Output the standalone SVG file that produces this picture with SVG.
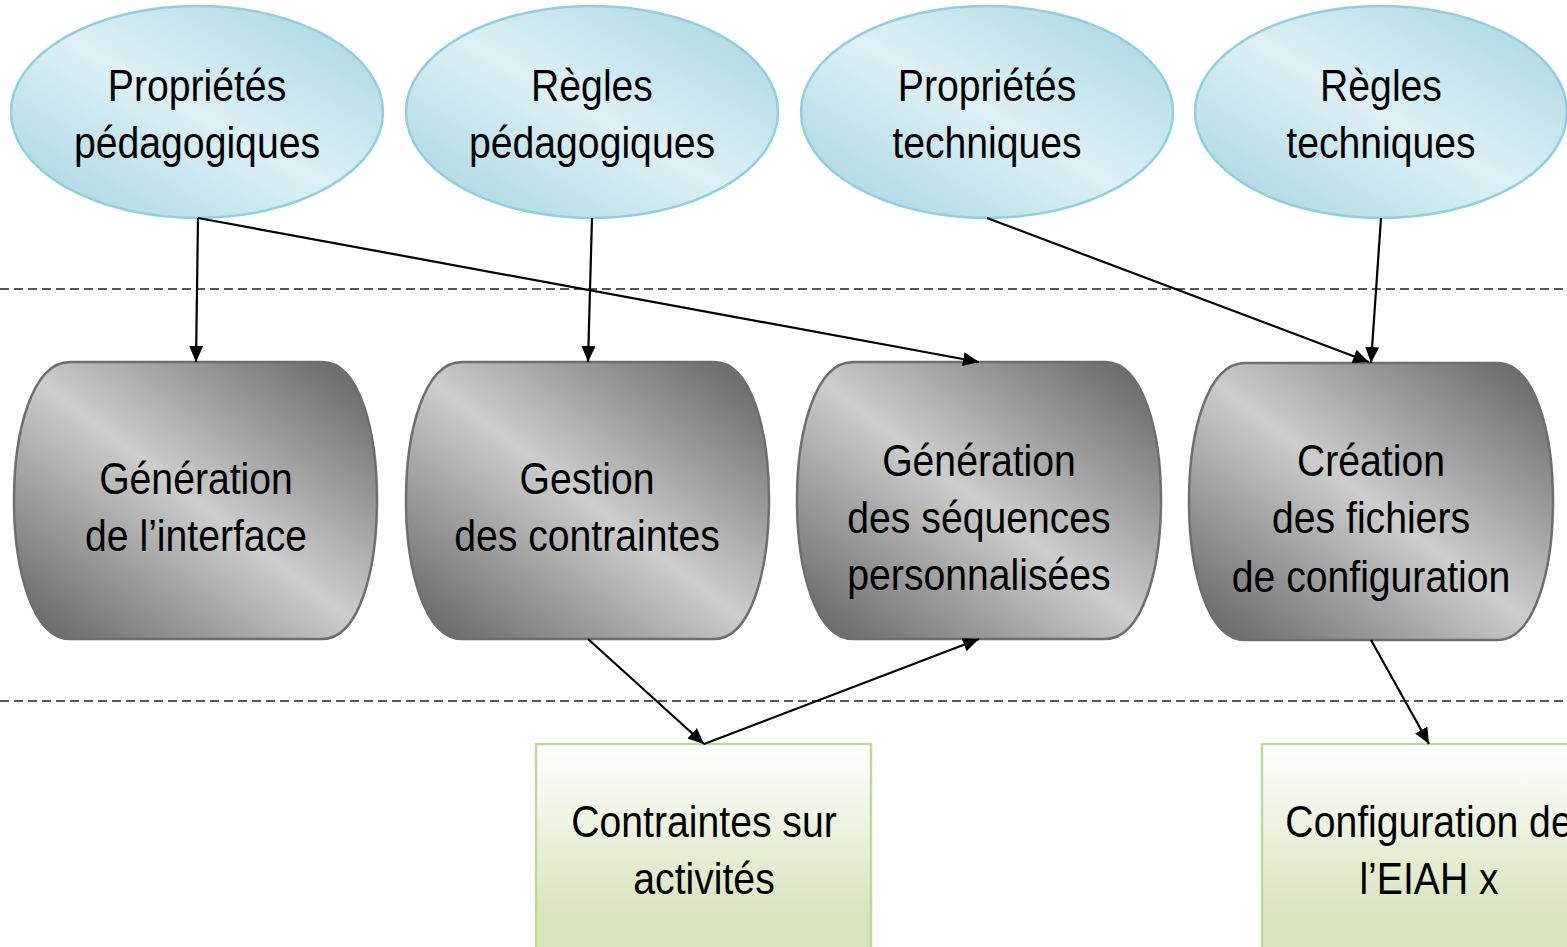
<svg xmlns="http://www.w3.org/2000/svg" width="1567" height="947" viewBox="0 0 1567 947">
<defs>
<style>
.ell{fill:url(#gBlue);stroke:#92cfdc;stroke-width:2.5}
.cyl{fill:url(#gGray);stroke:#6e6e6e;stroke-width:2.5}
.box{fill:url(#gGreen);stroke:#c3d69b;stroke-width:2.5}
.t{font-family:"Liberation Sans Narrow","Liberation Sans",Arial,sans-serif;font-size:44px;fill:#000;text-anchor:middle}
.dash{stroke:#222;stroke-width:1.6;stroke-dasharray:9 5;fill:none}
.c{stroke:#000;stroke-width:2.2;fill:none;marker-end:url(#ah)}
</style>
<linearGradient id="gBlue" x1="1" y1="0" x2="0" y2="1">
<stop offset="0" stop-color="#a3d4e1"/>
<stop offset="0.5" stop-color="#ddf0f5"/>
<stop offset="1" stop-color="#a3d4e1"/>
</linearGradient>
<linearGradient id="gGray" x1="1" y1="0" x2="0" y2="1">
<stop offset="0" stop-color="#5e5e5e"/>
<stop offset="0.5" stop-color="#cdcdcd"/>
<stop offset="1" stop-color="#5e5e5e"/>
</linearGradient>
<linearGradient id="gGreen" x1="0" y1="0" x2="0" y2="1">
<stop offset="0" stop-color="#ffffff"/>
<stop offset="0.8" stop-color="#d8e4bc"/>
<stop offset="1" stop-color="#d8e4bc"/>
</linearGradient>
<marker id="ah" viewBox="0 0 16 14" refX="16" refY="7" markerWidth="16" markerHeight="14" markerUnits="userSpaceOnUse" orient="auto">
<path d="M0,0 L16,7 L0,14 Z" fill="#000"/>
</marker>
</defs>

<g id="separators">
<line class="dash" x1="0" y1="289" x2="1567" y2="289"/>
<line class="dash" x1="0" y1="701" x2="1567" y2="701"/>
</g>

<g id="node-proprietes-pedagogiques">
<ellipse class="ell" cx="197" cy="112" rx="186" ry="106"/>
<text class="t" transform="translate(197 101) scale(0.89 1)">Propriétés</text>
<text class="t" transform="translate(197 158) scale(0.89 1)">pédagogiques</text>
</g>
<g id="node-regles-pedagogiques">
<ellipse class="ell" cx="592" cy="112" rx="186" ry="106"/>
<text class="t" transform="translate(592 101) scale(0.89 1)">Règles</text>
<text class="t" transform="translate(592 158) scale(0.89 1)">pédagogiques</text>
</g>
<g id="node-proprietes-techniques">
<ellipse class="ell" cx="987" cy="112" rx="186" ry="106"/>
<text class="t" transform="translate(987 101) scale(0.89 1)">Propriétés</text>
<text class="t" transform="translate(987 158) scale(0.89 1)">techniques</text>
</g>
<g id="node-regles-techniques">
<ellipse class="ell" cx="1381" cy="112" rx="186" ry="106"/>
<text class="t" transform="translate(1381 101) scale(0.89 1)">Règles</text>
<text class="t" transform="translate(1381 158) scale(0.89 1)">techniques</text>
</g>

<g id="node-generation-interface">
<path class="cyl" d="M70,362 L322,362 C360,362 377,432 377,500 C377,568 360,639 322,639 L70,639 C32,639 14,568 14,500 C14,432 32,362 70,362 Z"/>
<text class="t" transform="translate(196 494) scale(0.89 1)">Génération</text>
<text class="t" transform="translate(196 551) scale(0.89 1)">de l’interface</text>
</g>
<g id="node-gestion-contraintes">
<path class="cyl" d="M462,362 L714,362 C752,362 769,432 769,500 C769,568 752,639 714,639 L462,639 C424,639 406,568 406,500 C406,432 424,362 462,362 Z"/>
<text class="t" transform="translate(587 494) scale(0.89 1)">Gestion</text>
<text class="t" transform="translate(587 551) scale(0.89 1)">des contraintes</text>
</g>
<g id="node-generation-sequences">
<path class="cyl" d="M853,362 L1105,362 C1143,362 1161,432 1161,500 C1161,568 1143,639 1105,639 L853,639 C815,639 797,568 797,500 C797,432 815,362 853,362 Z"/>
<text class="t" transform="translate(979 476) scale(0.89 1)">Génération</text>
<text class="t" transform="translate(979 533) scale(0.89 1)">des séquences</text>
<text class="t" transform="translate(979 590) scale(0.89 1)">personnalisées</text>
</g>
<g id="node-creation-fichiers">
<path class="cyl" d="M1245,363 L1497,363 C1535,363 1553,433 1553,501 C1553,569 1535,640 1497,640 L1245,640 C1207,640 1189,569 1189,501 C1189,433 1207,363 1245,363 Z"/>
<text class="t" transform="translate(1371 476) scale(0.89 1)">Création</text>
<text class="t" transform="translate(1371 533) scale(0.89 1)">des fichiers</text>
<text class="t" transform="translate(1371 592) scale(0.89 1)">de configuration</text>
</g>

<g id="node-contraintes-activites">
<rect class="box" x="536" y="744" width="335" height="215"/>
<text class="t" transform="translate(704 837) scale(0.89 1)">Contraintes sur</text>
<text class="t" transform="translate(704 894) scale(0.89 1)">activités</text>
</g>
<g id="node-configuration-eiah">
<rect class="box" x="1262" y="744" width="335" height="215"/>
<text class="t" transform="translate(1429 837) scale(0.89 1)">Configuration de</text>
<text class="t" transform="translate(1429 894) scale(0.89 1)">l’EIAH x</text>
</g>

<g id="connectors">
<line class="c" x1="198" y1="218" x2="196" y2="362"/>
<line class="c" x1="198" y1="218" x2="979" y2="362"/>
<line class="c" x1="592" y1="218" x2="588" y2="362"/>
<line class="c" x1="987" y1="218" x2="1369" y2="362"/>
<line class="c" x1="1381" y1="218" x2="1371" y2="363"/>
<line class="c" x1="588" y1="639" x2="704" y2="744"/>
<line class="c" x1="704" y1="744" x2="979" y2="639"/>
<line class="c" x1="1371" y1="640" x2="1429" y2="744"/>
</g>
</svg>
